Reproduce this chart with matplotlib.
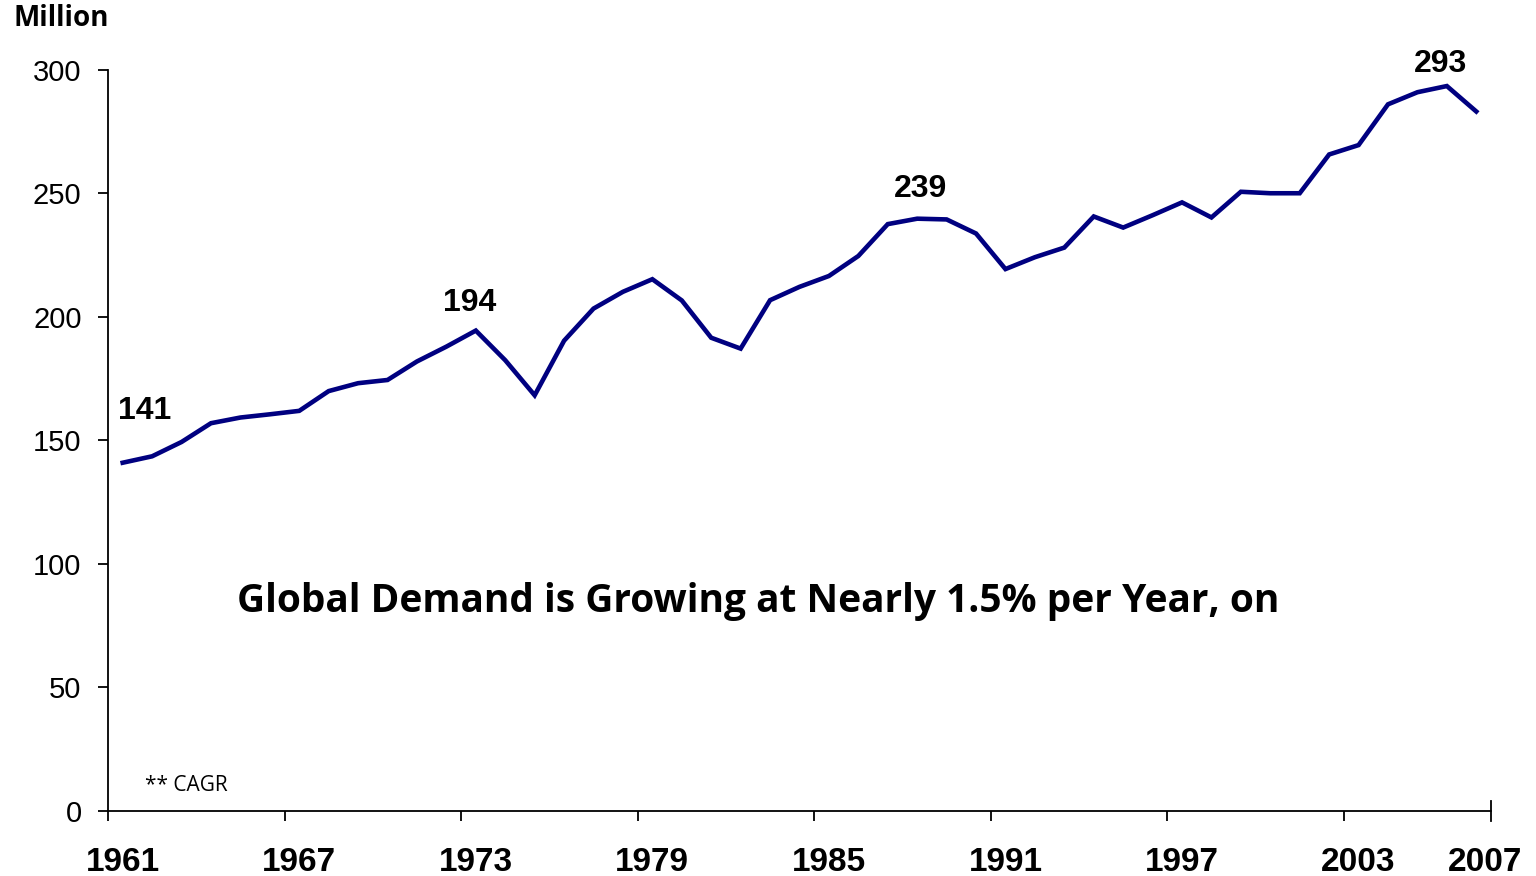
import matplotlib.pyplot as plt
import numpy as np

# global demand, million, 1961-2007
years = list(range(1961, 2008))
demand = [141, 143.6, 149.4, 157, 159.3, 160.6, 162, 170, 173.2, 174.5,
          182, 188, 194.5, 182.5, 168.3, 190.4, 203.4, 210.2, 215.3, 206.7,
          191.6, 187.2, 206.8, 212.2, 216.6, 224.7, 237.6, 239.8, 239.5, 233.8,
          219.4, 224.2, 228.1, 240.7, 236.2, 241.2, 246.4, 240.3, 250.7, 250.1,
          250.1, 265.8, 269.6, 286.1, 291, 293.5, 283.2]

tick_years = [1961, 1967, 1973, 1979, 1985, 1991, 1997, 2003, 2007]
y_ticks = [0, 50, 100, 150, 200, 250, 300]

# labelled peaks: (year, text)
peak_labels = [(1961, "141"), (1973, "194"), (1988, "239"), (2006, "293")]

x = np.arange(len(years))

fig = plt.figure(figsize=(15.36, 8.76), dpi=100)
ax = fig.add_axes([0.0703, 0.0742, 0.9004, 0.8459])

ax.plot(x, demand, color="#000080", lw=3.3, solid_joinstyle="miter")

ax.set_xlim(-0.5, len(years) - 0.5)
ax.set_ylim(0, 300)

for side in ["top", "right"]:
    ax.spines[side].set_visible(False)
for side in ["left", "bottom"]:
    ax.spines[side].set_linewidth(1.3)

ax.set_yticks(y_ticks)
ax.set_yticklabels([str(v) for v in y_ticks], fontfamily="Liberation Sans", fontsize=21)
ax.tick_params(axis="y", direction="out", length=7, width=1.3, pad=12)

# year labels at category centres (last one nudged right), tick marks at boundaries
label_pos = [years.index(y) for y in tick_years]
label_pos[-1] += 0.3
ax.set_xticks(label_pos)
ax.set_xticklabels([str(y) for y in tick_years], fontfamily="Liberation Sans",
                   fontsize=24, fontweight="bold")
ax.tick_params(axis="x", which="major", length=0, pad=26)
ax.set_xticks(list(np.arange(-0.5, len(years) - 1, 6)), minor=True)
ax.tick_params(axis="x", which="minor", direction="out", length=7, width=1.3)
ax.plot([len(years) - 0.5, len(years) - 0.5], [-4, 4], color="black", lw=1.3,
        clip_on=False)

offsets = {"141": (0.75, 21), "194": (-0.2, 11), "239": (0.1, 12), "293": (-0.2, 9)}
for yr, txt in peak_labels:
    i = years.index(yr)
    dx, dy = offsets[txt]
    ax.text(i + dx, demand[i] + dy, txt, ha="center", va="center",
            fontfamily="Liberation Sans", fontsize=23, fontweight="bold")

ax.text(21.6, 85, "Global Demand is Growing at Nearly 1.5% per Year, on",
        ha="center", va="center", fontfamily="Open Sans", fontsize=28,
        fontweight="bold")
ax.text(0.76, 10.5, "** CAGR", ha="left", va="center", fontfamily="Open Sans",
        fontsize=15)

fig.text(13 / 1536, 1 - 18 / 876, "Million", ha="left", va="center",
         fontfamily="Open Sans", fontsize=20, fontweight="bold")

fig.savefig("out.png", dpi=100, facecolor="white")
